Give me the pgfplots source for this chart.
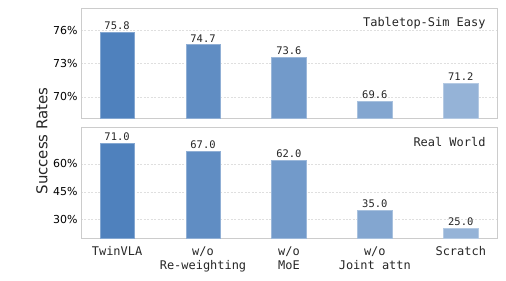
\documentclass[border=0pt]{standalone}
\usepackage{fontspec}
\setmainfont{DejaVu Sans}
\newfontfamily\mono{DejaVu Sans Mono}
\usepackage{pgfplots}
\pgfplotsset{compat=1.18}
\definecolor{cA}{HTML}{4F81BD}
\definecolor{cB}{HTML}{608DC3}
\definecolor{cC}{HTML}{729ACA}
\definecolor{cD}{HTML}{83A6D0}
\definecolor{cE}{HTML}{95B3D7}
\definecolor{frame}{HTML}{CCCCCC}
\pgfplotsset{
  panel/.style={
    scale only axis, width=416.7bp,
    xmin=-0.42, xmax=4.43,
    xtick={0,1,2,3,4},
    ybar, bar width=0.4, bar shift=0pt,
    axis line style={draw=frame, line width=0.8pt},
    major tick length=0pt,
    ymajorgrids, major grid style={dash pattern=on 2pt off 1.5pt, draw=gray!25, line width=0.5pt},
    tick label style={font=\fontsize{11}{13}\selectfont},
    /pgf/number format/assume math mode=true,
    nodes near coords={\pgfmathprintnumber[fixed,fixed zerofill,precision=1]{\pgfplotspointmeta}},
    every node near coord/.append style={font=\mono\fontsize{10.5}{12}\selectfont, text=black!85, yshift=-1bp},
    axis background/.style={fill=white},
    clip=false,
  },
  barA/.style={fill=cA, draw=cA!70!white, line width=0.6pt},
  barB/.style={fill=cB, draw=cB!70!white, line width=0.6pt},
  barC/.style={fill=cC, draw=cC!70!white, line width=0.6pt},
  barD/.style={fill=cD, draw=cD!70!white, line width=0.6pt},
  barE/.style={fill=cE, draw=cE!70!white, line width=0.6pt},
}
\begin{document}
\begin{tikzpicture}
\useasboundingbox (0,0) rectangle (506bp,281bp);
% top panel
\begin{axis}[panel, at={(81bp,163bp)}, anchor=south west, height=110bp,
  ymin=68.1, ymax=78.0, ytick={70,73,76}, yticklabels={70\%,73\%,76\%},
  xticklabels={}]
\addplot[barA] coordinates {(0,75.8)};
\addplot[barB] coordinates {(1,74.7)};
\addplot[barC] coordinates {(2,73.6)};
\addplot[barD] coordinates {(3,69.6)};
\addplot[barE] coordinates {(4,71.2)};
\node[anchor=east, font=\mono\fontsize{12}{14}\selectfont, text=black!85] at ([xshift=-8.7bp,yshift=-14.7bp]rel axis cs:1,1) {Tabletop-Sim Easy};
\end{axis}
% bottom panel
\begin{axis}[panel, at={(81bp,43bp)}, anchor=south west, height=111bp,
  ymin=20, ymax=80, ytick={30,45,60}, yticklabels={30\%,45\%,60\%},
  xticklabels={TwinVLA, w/o\\Re-weighting, w/o\\MoE, w/o\\Joint attn, Scratch},
  xticklabel style={font=\mono\fontsize{12}{14.7}\selectfont, align=center, anchor=north, yshift=-5bp, text=black!85}]
\addplot[barA] coordinates {(0,71.0)};
\addplot[barB] coordinates {(1,67.0)};
\addplot[barC] coordinates {(2,62.0)};
\addplot[barD] coordinates {(3,35.0)};
\addplot[barE] coordinates {(4,25.0)};
\node[anchor=east, font=\mono\fontsize{12}{14}\selectfont, text=black!85] at ([xshift=-8.7bp,yshift=-14.7bp]rel axis cs:1,1) {Real World};
\end{axis}
\node[rotate=90, font=\fontsize{15}{17}\selectfont, text=black!85] at (42bp,140bp) {Success Rates};
\end{tikzpicture}
\end{document}
